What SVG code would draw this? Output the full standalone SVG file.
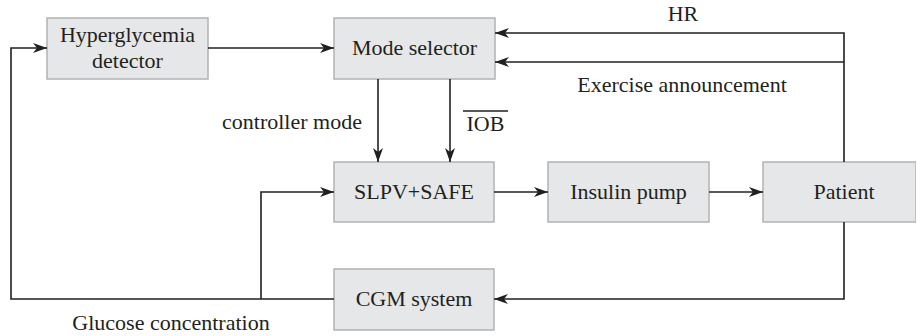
<svg xmlns="http://www.w3.org/2000/svg" width="916" height="336" viewBox="0 0 916 336">
<style>
.box{fill:#e6e7e8;stroke:#b3b3b3;stroke-width:1.5}
.t{font-size:22px;fill:#231f20;text-anchor:middle}
.ln{fill:none;stroke:#231f20;stroke-width:1.6}
</style>
<defs>
<marker id="ah" viewBox="0 0 14 10" refX="14" refY="5" markerWidth="14" markerHeight="10" markerUnits="userSpaceOnUse" orient="auto">
<path d="M0,0 L14,5 L0,10 L4,5 Z" fill="#231f20"/>
</marker>
</defs>
<g id="hyper"><rect class="box" x="47" y="18" width="161" height="61"/><text class="t" font-family="Liberation Serif" x="127.5" y="42">Hyperglycemia</text><text class="t" font-family="Liberation Serif" x="127.5" y="68">detector</text></g>
<g id="mode"><rect class="box" x="334" y="18" width="161" height="61"/><text class="t" font-family="Liberation Serif" x="414.5" y="55">Mode selector</text></g>
<g id="slpv"><rect class="box" x="334" y="162" width="160" height="60"/><text class="t" font-family="Liberation Serif" x="414" y="199">SLPV+SAFE</text></g>
<g id="pump"><rect class="box" x="548" y="162" width="161" height="60"/><text class="t" font-family="Liberation Serif" x="628.5" y="199">Insulin pump</text></g>
<g id="patient"><rect class="box" x="763" y="162" width="153" height="60"/><text class="t" font-family="Liberation Serif" x="844" y="199">Patient</text></g>
<g id="cgm"><rect class="box" x="334" y="269" width="160" height="61"/><text class="t" font-family="Liberation Serif" x="414" y="306">CGM system</text></g>
<g id="connectors">
<path class="ln" d="M208,48 L334,48" marker-end="url(#ah)"/>
<path class="ln" d="M844,162 L844,33 L495,33" marker-end="url(#ah)"/>
<path class="ln" d="M844,62 L495,62" marker-end="url(#ah)"/>
<path class="ln" d="M378,79 L378,162" marker-end="url(#ah)"/>
<path class="ln" d="M450,79 L450,162" marker-end="url(#ah)"/>
<path class="ln" d="M494,192 L548,192" marker-end="url(#ah)"/>
<path class="ln" d="M709,192 L763,192" marker-end="url(#ah)"/>
<path class="ln" d="M844,222 L844,299 L494,299" marker-end="url(#ah)"/>
<path class="ln" d="M334,299 L11,299 L11,48 L47,48" marker-end="url(#ah)"/>
<path class="ln" d="M261,299 L261,192 L334,192" marker-end="url(#ah)"/>
</g>
<g id="labels">
<text class="t" font-family="Liberation Serif" x="292" y="129">controller mode</text>
<text class="t" font-family="Liberation Serif" x="485.5" y="131">IOB</text>
<line x1="463" y1="111" x2="508" y2="111" stroke="#231f20" stroke-width="1.6"/>
<text class="t" font-family="Liberation Serif" x="683" y="21">HR</text>
<text class="t" font-family="Liberation Serif" x="682" y="92">Exercise announcement</text>
<text class="t" font-family="Liberation Serif" x="171" y="330">Glucose concentration</text>
</g>
</svg>
